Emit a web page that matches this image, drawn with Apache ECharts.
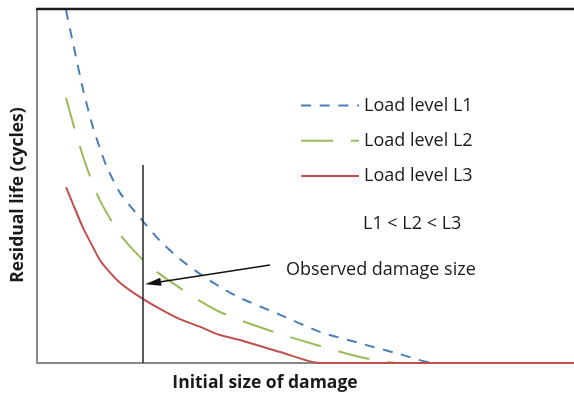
<!DOCTYPE html>
<html>
<head>
<meta charset="utf-8">
<script src="https://cdn.jsdelivr.net/npm/echarts@6/dist/echarts.min.js"></script>
<style>
  html, body { margin: 0; padding: 0; background: #fff; }
  #chart { width: 574px; height: 396px; }
</style>
</head>
<body>
<div id="chart"></div>
<script>
// Initial size of damage (relative units, 0 = origin of the axis)
const damageSize = [5.4, 6.7, 8.6, 10.4, 11.7, 13.0, 15.5, 19.2, 22.9, 26.6, 30.4, 34.1, 37.8, 45.3, 52.7, 60.1, 67.6, 74.1, 82.5, 100];

// Residual life (relative units) for each load level
const lifeL1 = [99.7, 90.4, 77.1, 66.7, 60.7, 55.4, 48.0, 41.0, 34.5, 29.4, 25.1, 21.5, 18.4, 13.6, 8.8, 5.6, 2.5, 0, 0, 0];
const lifeL2 = [74.9, 67.8, 58.2, 50.6, 46.0, 42.4, 36.2, 29.9, 25.1, 21.2, 17.5, 14.4, 12.1, 8.2, 4.8, 1.7, 0, 0, 0, 0];
const lifeL3 = [49.7, 44.9, 38.1, 32.8, 29.1, 26.6, 22.6, 18.6, 15.3, 12.4, 10.2, 7.9, 6.5, 3.1, 0, 0, 0, 0, 0, 0];

const seriesNames = ['Load level L1', 'Load level L2', 'Load level L3'];

// Observed damage size and the arrow pointing at it
const observedSize = 19.6;
const observedLineTop = 55.9;
const arrowFrom = [43.4, 27.7];
const arrowTo = [21.6, 22.6];

// value range of both axes
const sizeMax = 100;
const lifeMax = 100;

const FONT = '"Open Sans", "Noto Sans", sans-serif';

function pairs(xs, ys) {
  return xs.map((x, i) => [x, ys[i]]);
}

const hiddenParts = {
  axisTick: { show: false }, axisLabel: { show: false }, splitLine: { show: false }
};

const chart = echarts.init(document.getElementById('chart'), null, { renderer: 'canvas' });

chart.setOption({
  animation: false,
  backgroundColor: '#ffffff',
  grid: { left: 37, right: 0, top: 9, bottom: 33 },
  xAxis: Object.assign({
    type: 'value', min: 0, max: sizeMax,
    axisLine: { show: true, onZero: false, lineStyle: { color: '#8a8a8a', width: 2 } }
  }, hiddenParts),
  yAxis: Object.assign({
    type: 'value', min: 0, max: lifeMax,
    axisLine: { show: true, onZero: false, lineStyle: { color: '#8a8a8a', width: 2 } }
  }, hiddenParts),
  legend: {
    orient: 'vertical',
    left: 300,
    top: 96,
    padding: 0,
    itemWidth: 58,
    itemHeight: 24,
    itemGap: 16,
    data: seriesNames,
    itemStyle: { opacity: 0 },
    textStyle: { fontFamily: FONT, fontSize: 18, color: '#1a1a1a' },
    selectedMode: false
  },
  series: [
    {
      name: seriesNames[0], type: 'line', data: pairs(damageSize, lifeL1),
      symbol: 'none', smooth: 0.25,
      lineStyle: { color: '#4a7ebb', width: 2, type: [10, 8.7] },
      itemStyle: { color: '#4a7ebb' }, z: 2
    },
    {
      name: seriesNames[1], type: 'line', data: pairs(damageSize, lifeL2),
      symbol: 'none', smooth: 0.25,
      lineStyle: { color: '#9bbb59', width: 2, type: [32, 18] },
      itemStyle: { color: '#9bbb59' }, z: 3
    },
    {
      name: seriesNames[2], type: 'line', data: pairs(damageSize, lifeL3),
      symbol: 'none', smooth: 0.25,
      lineStyle: { color: '#c0504d', width: 2 },
      itemStyle: { color: '#c0504d' }, z: 4,
      markLine: {
        silent: true,
        animation: false,
        label: { show: false },
        emphasis: { disabled: true },
        symbol: 'none',
        data: [
          [
            { coord: [observedSize, 0], symbol: 'none', lineStyle: { color: '#333333', width: 1.6, type: 'solid' } },
            { coord: [observedSize, observedLineTop], symbol: 'none' }
          ],
          [
            { coord: arrowFrom, symbol: 'none', lineStyle: { color: '#111111', width: 1.4, type: 'solid' } },
            { coord: arrowTo, symbol: 'triangle', symbolSize: [8, 16] }
          ]
        ]
      }
    }
  ],
  graphic: [
    {
      type: 'text', left: 363, top: 215,
      style: { text: 'L1 < L2 < L3', font: '18px ' + FONT, fill: '#1a1a1a' }
    },
    {
      type: 'text', left: 286, top: 261,
      style: { text: 'Observed damage size', font: '18px ' + FONT, fill: '#1a1a1a' }
    },
    {
      type: 'text', x: 265, y: 383,
      style: { text: 'Initial size of damage', font: 'bold 17.5px ' + FONT, fill: '#1a1a1a', align: 'center', verticalAlign: 'middle' }
    },
    {
      type: 'text', x: 18, y: 195, rotation: Math.PI / 2,
      style: { text: 'Residual life (cycles)', font: 'bold 17.5px ' + FONT, fill: '#1a1a1a', align: 'center', verticalAlign: 'middle' }
    }
  ]
});

// dark upper edge of the frame, placed from the axis scales
const topLeft = chart.convertToPixel({ gridIndex: 0 }, [0, lifeMax]);
const topRight = chart.convertToPixel({ gridIndex: 0 }, [sizeMax, lifeMax]);
chart.setOption({
  graphic: [{
    id: 'frameTop', type: 'line', z: 10,
    shape: { x1: topLeft[0] - 1, y1: topLeft[1], x2: topRight[0] + 2, y2: topRight[1] },
    style: { stroke: '#1c1c1c', lineWidth: 2.5 }
  }]
});
</script>
</body>
</html>
